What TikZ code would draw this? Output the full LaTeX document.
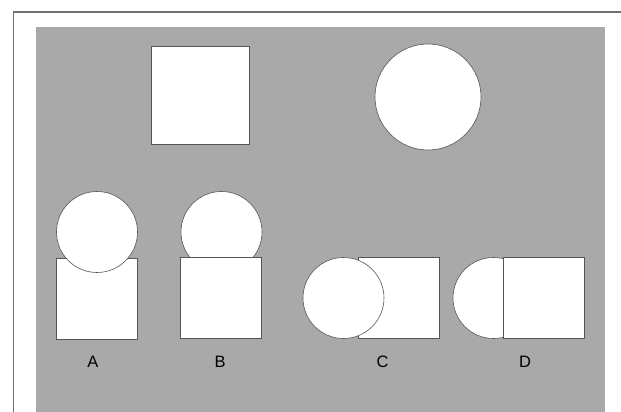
\documentclass[tikz,border=0pt]{standalone}
\usepackage{fontspec}
\setmainfont{Liberation Sans}
\usepackage{xcolor}
\usetikzlibrary{positioning}
\definecolor{PanelGray}{HTML}{A9A9A9}
\definecolor{FrameGray}{HTML}{707070}
\definecolor{EdgeGray}{HTML}{555555}
\tikzset{
    % Square shape
    squareshape/.style={
        rectangle,
        draw=EdgeGray,
        fill=white,
        line width=0.6pt,
        inner sep=0pt
    },
    % Circle shape
    circleshape/.style={
        circle,
        draw=EdgeGray,
        fill=white,
        line width=0.6pt,
        inner sep=0pt
    },
    % Caption letter
    caption/.style={
        font=\fontsize{16.5}{18}\selectfont,
        inner sep=0pt
    }
}
\begin{document}
\begin{tikzpicture}[x=1pt, y=-1pt]
        \useasboundingbox (0,0) rectangle (621,412);
        \clip (0,0) rectangle (621,412);
        % Frame and panel
        \draw [FrameGray, line width=1.2pt] (13.5,12) rectangle (660,440);
        \fill [PanelGray] (36,27) rectangle (605,440);

        % Originals
        \node (sq) [squareshape, minimum size=98pt] at (200,95.5) {};
        \node (ci) [circleshape, minimum size=106pt] at (428,97) {};

        % A: circle over square
        \node (sqA) [squareshape, minimum size=81pt] at (97,299) {};
        \node (ciA) [circleshape, minimum size=81pt] at (97,232) {};
        \node (labA) [caption] at (93,362) {A};

        % B: square over circle
        \node (ciB) [circleshape, minimum size=81pt] at (221.5,232) {};
        \node (sqB) [squareshape, minimum size=81pt] at (221,297.5) {};
        \node (labB) [caption] at (220,362) {B};

        % C: circle over square
        \node (sqC) [squareshape, minimum size=81pt] at (399,298) {};
        \node (ciC) [circleshape, minimum size=81pt] at (343.5,298) {};
        \node (labC) [caption] at (382.5,362) {C};

        % D: square over circle
        \node (ciD) [circleshape, minimum size=81pt] at (493.5,298) {};
        \node (sqD) [squareshape, minimum size=81pt] at (544,298) {};
        \node (labD) [caption] at (525,362) {D};
    \end{tikzpicture}
\end{document}
